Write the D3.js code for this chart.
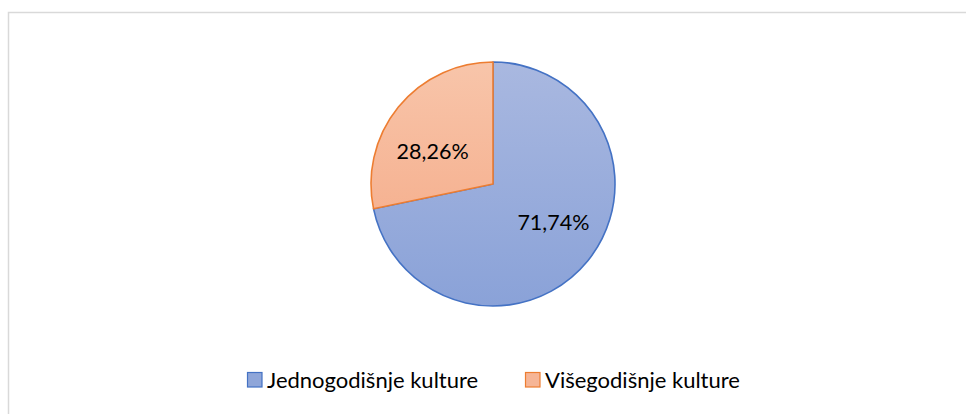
<!DOCTYPE html>
<html>
<head>
<meta charset="utf-8">
<script src="https://cdn.jsdelivr.net/npm/d3@7"></script>
<style>
  body { margin: 0; background: #fff; }
  text { font-family: Lato, "Open Sans", sans-serif; fill: #000; }
</style>
</head>
<body>
<svg id="pie"></svg>
<script>
// chart data
var categories = ["Jednogodišnje kulture", "Višegodišnje kulture"];
var shares = [71.74, 28.26];
var labels = ["71,74%", "28,26%"];

var width = 966, height = 414;
var svg = d3.select("#pie").attr("width", width).attr("height", height);

// outer chart frame (runs off right and bottom edges)
svg.append("rect")
  .attr("x", 8.5).attr("y", 12.5)
  .attr("width", 970).attr("height", 420)
  .attr("fill", "none")
  .attr("stroke", "#d9d9d9")
  .attr("stroke-width", 1.5);

// gradients like the Office style fills
var defs = svg.append("defs");
var grads = [
  { id: "gBlue", top: "#a9b8e0", bottom: "#8aa2d8" },
  { id: "gOrange", top: "#f8c5aa", bottom: "#f4a682" }
];
grads.forEach(function(g) {
  var lg = defs.append("linearGradient")
    .attr("id", g.id)
    .attr("gradientUnits", "userSpaceOnUse")
    .attr("x1", 0).attr("y1", -122).attr("x2", 0).attr("y2", 122);
  lg.append("stop").attr("offset", "0%").attr("stop-color", g.top);
  lg.append("stop").attr("offset", "100%").attr("stop-color", g.bottom);
});

var fills = ["url(#gBlue)", "url(#gOrange)"];
var strokes = ["#4472c4", "#ed7d31"];
var legendFills = ["#8fa6d9", "#f6b596"];

var cx = 493, cy = 184, radius = 122;

var pie = d3.pie().sort(null).value(function(d) { return d; });
var arc = d3.arc().innerRadius(0).outerRadius(radius);
var labelArc = d3.arc().innerRadius(radius * 0.58).outerRadius(radius * 0.58);

var g = svg.append("g").attr("transform", "translate(" + cx + "," + cy + ")");
var arcs = pie(shares);

g.selectAll("path")
  .data(arcs)
  .enter().append("path")
  .attr("d", arc)
  .attr("fill", function(d, i) { return fills[i]; })
  .attr("stroke", function(d, i) { return strokes[i]; })
  .attr("stroke-width", 1.6)
  .attr("stroke-linejoin", "round");

// labels sit a bit flatter than the slice bisector, like Excel does
g.selectAll("text.lbl")
  .data(arcs)
  .enter().append("text")
  .attr("class", "lbl")
  .attr("transform", function(d) {
    var c = labelArc.centroid(d);
    return "translate(" + (c[0] * 1.1) + "," + (c[1] * 0.8 + 3) + ")";
  })
  .attr("text-anchor", "middle")
  .attr("dy", "0.36em")
  .style("font-size", "21.5px")
  .text(function(d, i) { return labels[i]; });

// legend
var legendX = [247, 525];
var legend = svg.append("g").selectAll("g")
  .data(categories)
  .enter().append("g")
  .attr("transform", function(d, i) { return "translate(" + legendX[i] + ",372)"; });

legend.append("rect")
  .attr("x", 0.5).attr("y", 0.5)
  .attr("width", 14.5).attr("height", 14.5)
  .attr("fill", function(d, i) { return legendFills[i]; })
  .attr("stroke", function(d, i) { return strokes[i]; })
  .attr("stroke-width", 1.2);

legend.append("text")
  .attr("x", 20).attr("y", 8)
  .attr("dy", "0.36em")
  .style("font-size", "22px")
  .text(function(d) { return d; });
</script>
</body>
</html>
